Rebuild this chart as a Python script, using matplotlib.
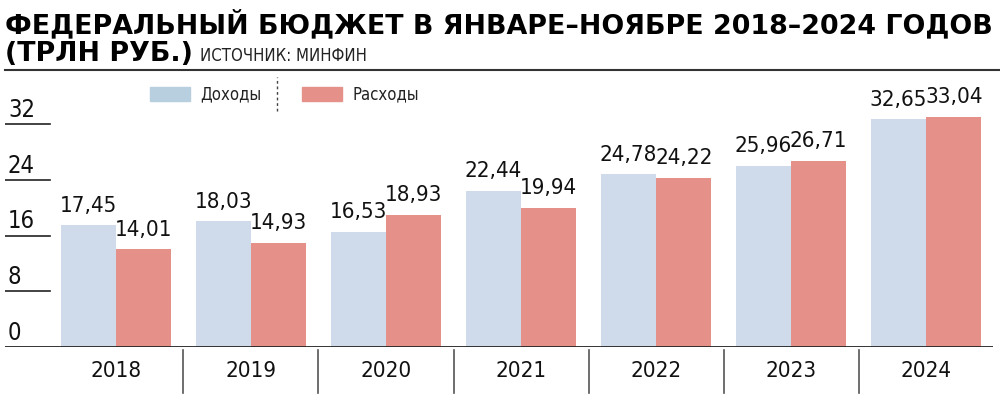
import matplotlib
matplotlib.use('Agg')
import matplotlib.pyplot as plt
from matplotlib.patches import Rectangle
from matplotlib.lines import Line2D
import numpy as np

years = ['2018', '2019', '2020', '2021', '2022', '2023', '2024']
income = [17.45, 18.03, 16.53, 22.44, 24.78, 25.96, 32.65]
spending = [14.01, 14.93, 18.93, 19.94, 24.22, 26.71, 33.04]
income_labels = ['17,45', '18,03', '16,53', '22,44', '24,78', '25,96', '32,65']
spending_labels = ['14,01', '14,93', '18,93', '19,94', '24,22', '26,71', '33,04']
yticks = [0, 8, 16, 24, 32]

blue = '#cfdbea'
red = '#e5918a'

fig = plt.figure(figsize=(10, 3.95), dpi=100)
ax = fig.add_axes([0.005, 0.1215, 0.988, 0.6886])

x = np.arange(len(years))
w = 0.41
ax.bar(x - w / 2, income, w, color=blue, zorder=2)
ax.bar(x + w / 2, spending, w, color=red, zorder=2)

# value labels over the bars
for i in range(len(years)):
    ax.annotate(income_labels[i], (x[i] - w / 2, income[i]), xytext=(0, 7),
                textcoords='offset points', ha='center', va='bottom',
                fontsize=16, fontstretch='condensed', color='#111')
    ax.annotate(spending_labels[i], (x[i] + w / 2, spending[i]), xytext=(0, 7),
                textcoords='offset points', ha='center', va='bottom',
                fontsize=16, fontstretch='condensed', color='#111')

ax.set_xlim(-0.822, 6.496)
ax.set_ylim(0, 39.03)
for s in ax.spines.values():
    s.set_visible(False)
ax.set_xticks([])
ax.set_yticks([])

# y scale: short rules with the numbers sitting on them
yt = ax.get_yaxis_transform()
for v in yticks:
    if v > 0:
        ax.plot([0, 0.046], [v, v], transform=yt, color='#222', lw=1.2)
    ax.text(0.003, v + 0.3, str(v), transform=yt, ha='left', va='bottom',
            fontsize=17, fontstretch='condensed', color='#111')

ax.axhline(0, color='#222', lw=2, zorder=3)

# years and separators under the axis
xt = ax.get_xaxis_transform()
for i, yr in enumerate(years):
    ax.text(x[i], -0.09, yr, transform=xt, ha='center', va='center',
            fontsize=16, fontstretch='condensed', color='#111')
    if i < len(years) - 1:
        ax.plot([i + 0.5, i + 0.5], [-0.012, -0.17], transform=xt,
                color='#555', lw=1.2, clip_on=False)

# title
fig.text(0.005, 0.975, 'ФЕДЕРАЛЬНЫЙ БЮДЖЕТ В ЯНВАРЕ–НОЯБРЕ 2018–2024 ГОДОВ',
         ha='left', va='top', fontsize=19.4, fontweight='bold')
fig.text(0.005, 0.895, '(ТРЛН РУБ.)', ha='left', va='top', fontsize=19.4,
         fontweight='bold')
fig.text(0.2, 0.88, 'ИСТОЧНИК: МИНФИН', ha='left', va='top', fontsize=12,
         fontstretch='condensed', color='#222')
fig.add_artist(Line2D([0.005, 1.0], [0.823, 0.823], color='#333', lw=1.5))

# legend
fig.add_artist(Rectangle((0.150, 0.744), 0.040, 0.035, color='#b8cfdf'))
fig.text(0.200, 0.761, 'Доходы', ha='left', va='center', fontsize=12,
         fontstretch='condensed', color='#222')
fig.add_artist(Line2D([0.277, 0.277], [0.72, 0.805], color='#444', lw=1,
                      linestyle=(0, (2, 2))))
fig.add_artist(Rectangle((0.302, 0.744), 0.040, 0.035, color='#e5918a'))
fig.text(0.352, 0.761, 'Расходы', ha='left', va='center', fontsize=12,
         fontstretch='condensed', color='#222')

fig.savefig('out.png', dpi=100)
